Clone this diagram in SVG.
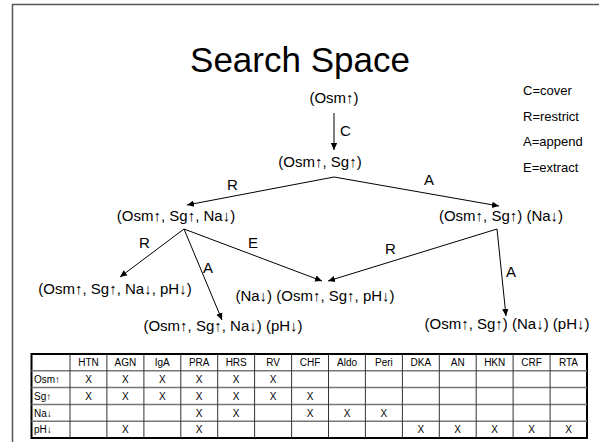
<svg xmlns="http://www.w3.org/2000/svg" width="599" height="442" viewBox="0 0 599 442">
<style>
text{font-family:"Liberation Sans",Arial,sans-serif;fill:#000}
.n{font-size:15px;text-anchor:middle}
.l{font-size:15px}
.lg{font-size:13px}
.t{font-size:10px;text-anchor:middle}
.tl{font-size:10px}
.c{stroke:#000;stroke-width:1;fill:none;marker-end:url(#ah)}
.ih{stroke:#777;stroke-width:1.5}
.iv{stroke:#333;stroke-width:1}
</style>
<defs>
<marker id="ah" markerWidth="8" markerHeight="8" refX="7" refY="4" orient="auto" markerUnits="userSpaceOnUse">
<path d="M0,0.8 L7,4 L0,7.2 Z" fill="#000"/>
</marker>
</defs>
<rect width="599" height="442" fill="#fff"/>
<path d="M12.5,442 V4.5 H599" stroke="#555" stroke-width="1.5" fill="none"/>
<text x="300" y="72" text-anchor="middle" style="font-size:35px">Search Space</text>
<g id="legend">
<text class="lg" x="523" y="95">C=cover</text>
<text class="lg" x="523" y="121">R=restrict</text>
<text class="lg" x="523" y="146">A=append</text>
<text class="lg" x="523" y="172">E=extract</text>
</g>
<g id="n1"><text class="n" x="334" y="103">(Osm↑)</text></g>
<g id="n2"><text class="n" x="320" y="167">(Osm↑, Sg↑)</text></g>
<g id="n3"><text class="n" x="176" y="221">(Osm↑, Sg↑, Na↓)</text></g>
<g id="n4"><text class="n" x="501" y="221">(Osm↑, Sg↑) (Na↓)</text></g>
<g id="n5"><text class="n" x="115" y="294">(Osm↑, Sg↑, Na↓, pH↓)</text></g>
<g id="n6"><text class="n" x="315" y="301">(Na↓) (Osm↑, Sg↑, pH↓)</text></g>
<g id="n7"><text class="n" x="223" y="331">(Osm↑, Sg↑, Na↓) (pH↓)</text></g>
<g id="n8"><text class="n" x="507" y="329">(Osm↑, Sg↑) (Na↓) (pH↓)</text></g>
<g id="connectors">
<line class="c" x1="334" y1="113" x2="334" y2="150"/>
<line class="c" x1="334" y1="177" x2="187" y2="205"/>
<line class="c" x1="334" y1="177" x2="499" y2="206"/>
<line class="c" x1="184" y1="229" x2="120" y2="277"/>
<line class="c" x1="184" y1="229" x2="222" y2="320"/>
<line class="c" x1="184" y1="229" x2="322" y2="281"/>
<line class="c" x1="497" y1="229" x2="328" y2="281"/>
<line class="c" x1="497" y1="229" x2="506" y2="316"/>
<text class="l" x="340" y="136">C</text>
<text class="l" x="227" y="190">R</text>
<text class="l" x="424" y="185">A</text>
<text class="l" x="139" y="248">R</text>
<text class="l" x="203" y="273">A</text>
<text class="l" x="248" y="248">E</text>
<text class="l" x="385" y="254">R</text>
<text class="l" x="506" y="277">A</text>
</g>
<g id="table">
<rect x="31.5" y="354" width="555.5" height="84" fill="none" stroke="#000" stroke-width="2"/>
<line class="ih" x1="31.5" y1="370.8" x2="587" y2="370.8"/>
<line class="ih" x1="31.5" y1="387.6" x2="587" y2="387.6"/>
<line class="ih" x1="31.5" y1="404.4" x2="587" y2="404.4"/>
<line class="ih" x1="31.5" y1="421.2" x2="587" y2="421.2"/>
<line class="iv" x1="70" y1="354" x2="70" y2="438"/>
<line class="iv" x1="106.9" y1="354" x2="106.9" y2="438"/>
<line class="iv" x1="143.9" y1="354" x2="143.9" y2="438"/>
<line class="iv" x1="180.8" y1="354" x2="180.8" y2="438"/>
<line class="iv" x1="217.7" y1="354" x2="217.7" y2="438"/>
<line class="iv" x1="254.6" y1="354" x2="254.6" y2="438"/>
<line class="iv" x1="291.6" y1="354" x2="291.6" y2="438"/>
<line class="iv" x1="328.5" y1="354" x2="328.5" y2="438"/>
<line class="iv" x1="365.4" y1="354" x2="365.4" y2="438"/>
<line class="iv" x1="402.4" y1="354" x2="402.4" y2="438"/>
<line class="iv" x1="439.3" y1="354" x2="439.3" y2="438"/>
<line class="iv" x1="476.2" y1="354" x2="476.2" y2="438"/>
<line class="iv" x1="513.1" y1="354" x2="513.1" y2="438"/>
<line class="iv" x1="550.1" y1="354" x2="550.1" y2="438"/>
<g class="hdr">
<text class="t" x="88.5" y="366">HTN</text>
<text class="t" x="125.4" y="366">AGN</text>
<text class="t" x="162.3" y="366">IgA</text>
<text class="t" x="199.2" y="366">PRA</text>
<text class="t" x="236.2" y="366">HRS</text>
<text class="t" x="273.1" y="366">RV</text>
<text class="t" x="310" y="366">CHF</text>
<text class="t" x="347" y="366">Aldo</text>
<text class="t" x="383.9" y="366">Peri</text>
<text class="t" x="420.8" y="366">DKA</text>
<text class="t" x="457.7" y="366">AN</text>
<text class="t" x="494.7" y="366">HKN</text>
<text class="t" x="531.6" y="366">CRF</text>
<text class="t" x="568.5" y="366">RTA</text>
</g>
<text class="tl" x="34" y="383">Osm↑</text>
<text class="tl" x="34" y="400">Sg↑</text>
<text class="tl" x="34" y="416.5">Na↓</text>
<text class="tl" x="34" y="433">pH↓</text>
<g class="x">
<text class="t" x="88.5" y="383">X</text><text class="t" x="125.4" y="383">X</text><text class="t" x="162.3" y="383">X</text><text class="t" x="199.2" y="383">X</text><text class="t" x="236.2" y="383">X</text><text class="t" x="273.1" y="383">X</text>
<text class="t" x="88.5" y="400">X</text><text class="t" x="125.4" y="400">X</text><text class="t" x="162.3" y="400">X</text><text class="t" x="199.2" y="400">X</text><text class="t" x="236.2" y="400">X</text><text class="t" x="273.1" y="400">X</text><text class="t" x="310" y="400">X</text>
<text class="t" x="199.2" y="416.5">X</text><text class="t" x="236.2" y="416.5">X</text><text class="t" x="310" y="416.5">X</text><text class="t" x="347" y="416.5">X</text><text class="t" x="383.9" y="416.5">X</text>
<text class="t" x="125.4" y="433">X</text><text class="t" x="199.2" y="433">X</text><text class="t" x="420.8" y="433">X</text><text class="t" x="457.7" y="433">X</text><text class="t" x="494.7" y="433">X</text><text class="t" x="531.6" y="433">X</text><text class="t" x="568.5" y="433">X</text>
</g>
</g>
</svg>
